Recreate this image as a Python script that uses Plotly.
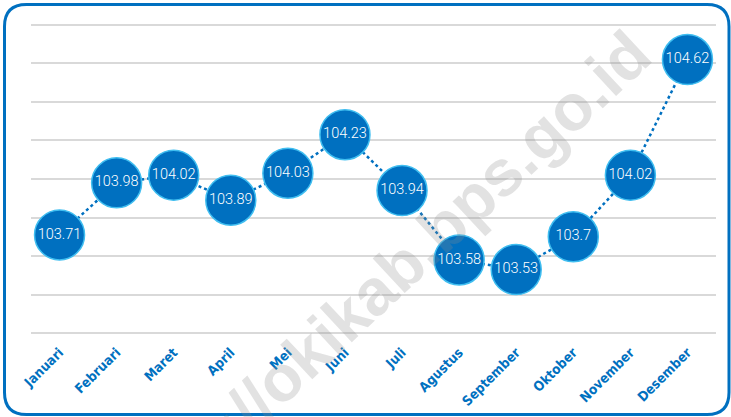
import plotly.graph_objects as go

months = ["Januari", "Februari", "Maret", "April", "Mei", "Juni", "Juli",
          "Agustus", "September", "Oktober", "November", "Desember"]
values = [103.71, 103.98, 104.02, 103.89, 104.03, 104.23, 103.94,
          103.58, 103.53, 103.70, 104.02, 104.62]
labels = ["103.71", "103.98", "104.02", "103.89", "104.03", "104.23", "103.94",
          "103.58", "103.53", "103.7", "104.02", "104.62"]

W, H = 731, 417
L, R, T, B = 31, 15, 21, 80
pw, ph = W - L - R, H - T - B

def px(x):
    return (x - L) / pw

def py(y):
    return (H - B - y) / ph

blue = "rgb(0,112,192)"

fig = go.Figure()
fig.add_trace(go.Scatter(
    x=months, y=values, mode="lines+markers+text",
    text=labels, textposition="middle center",
    textfont=dict(family="Roboto", size=14.5, color="white", weight=300),
    line=dict(color=blue, width=2.5, dash="dot"),
    marker=dict(size=50, color=blue, line=dict(color="rgb(64,190,240)", width=1.5)),
    cliponaxis=False, hoverinfo="skip", showlegend=False,
))

# rounded border (pixel -> paper)
x0, x1, y0, y1, r = 4.5, 729, 4.5, 414.5, 22
path = (f"M {px(x0+r)},{py(y0)} L {px(x1-r)},{py(y0)} "
        f"Q {px(x1)},{py(y0)} {px(x1)},{py(y0+r)} "
        f"L {px(x1)},{py(y1-r)} Q {px(x1)},{py(y1)} {px(x1-r)},{py(y1)} "
        f"L {px(x0+r)},{py(y1)} Q {px(x0)},{py(y1)} {px(x0)},{py(y1-r)} "
        f"L {px(x0)},{py(y0+r)} Q {px(x0)},{py(y0)} {px(x0+r)},{py(y0)} Z")
fig.add_shape(type="path", path=path, xref="paper", yref="paper",
              line=dict(color=blue, width=3), layer="above")

fig.add_annotation(
    text="https://okikab.bps.go.id", xref="paper", yref="paper",
    x=px(372), y=py(292), xanchor="center", yanchor="middle",
    showarrow=False, textangle=-43,
    font=dict(family="Liberation Sans", size=65, color="rgba(140,140,140,0.25)", weight="bold"),
)

fig.update_layout(
    width=W, height=H, margin=dict(l=L, r=R, t=T, b=B),
    paper_bgcolor="white", plot_bgcolor="white",
    xaxis=dict(showgrid=False, tickangle=-45, showline=False, automargin=False,
               ticks="", ticklabelstandoff=4,
               tickfont=dict(family="DejaVu Sans Condensed, Liberation Sans Narrow, Roboto Condensed, sans-serif",
                             size=13.5, color=blue, weight="bold"),
               range=[-0.5, 11.5], fixedrange=True),
    yaxis=dict(range=[103.18, 104.82], dtick=0.2, tick0=103.2, showgrid=True, automargin=False,
               gridcolor="#d9d9d9", gridwidth=1.5, showticklabels=False, zeroline=False,
               fixedrange=True),
)

fig.write_html("out.html", config={"displayModeBar": False},
               post_script="document.body.style.margin='0';")
